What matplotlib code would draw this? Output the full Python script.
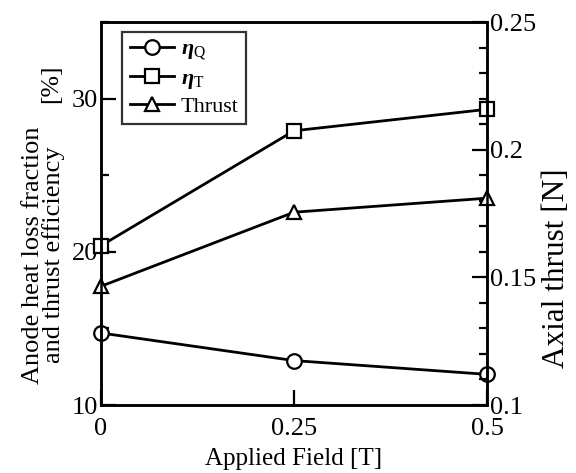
import matplotlib
matplotlib.use("Agg")
import matplotlib.pyplot as plt
from matplotlib.ticker import MultipleLocator

plt.rcParams['font.family'] = ['Liberation Serif', 'DejaVu Serif']
plt.rcParams['mathtext.fontset'] = 'custom'
plt.rcParams['mathtext.it'] = 'Liberation Serif:italic:bold'
plt.rcParams['mathtext.rm'] = 'Liberation Serif'

field = [0, 0.25, 0.5]
eta_q = [14.7, 12.9, 12.0]
eta_t = [20.4, 27.9, 29.3]
thrust = [0.1465, 0.1755, 0.181]

x_ticks = [0, 0.25, 0.5]
x_labels = ['0', '0.25', '0.5']
left_ticks = [10, 20, 30]
right_ticks = [0.1, 0.15, 0.2, 0.25]
right_labels = ['0.1', '0.15', '0.2', '0.25']

W, H = 576, 473
fig = plt.figure(figsize=(W / 100, H / 100), dpi=100)
ax = fig.add_axes([101 / W, 68 / H, 386 / W, 383 / H])
ax2 = ax.twinx()

mk = dict(color='black', lw=2.0, markersize=10.5, markerfacecolor='white',
          markeredgecolor='black', markeredgewidth=1.6, clip_on=False)
l1, = ax.plot(field, eta_q, marker='o', label=r'$\eta_{\rm Q}$', **mk)
l2, = ax.plot(field, eta_t, marker='s', label=r'$\eta_{\rm T}$', **mk)
l3, = ax2.plot(field, thrust, marker='^', label='Thrust', **mk)

ax.set_xlim(0, 0.5)
ax.set_ylim(10, 35)
ax2.set_ylim(0.1, 0.25)

ax.set_xticks(x_ticks)
ax.set_xticklabels(x_labels)
ax.set_yticks(left_ticks)
ax.yaxis.set_minor_locator(MultipleLocator(5))
ax2.set_yticks(right_ticks)
ax2.set_yticklabels(right_labels)
ax2.yaxis.set_minor_locator(MultipleLocator(0.01))

for a in (ax, ax2):
    for s in a.spines.values():
        s.set_linewidth(1.8)
    a.tick_params(which='both', direction='in', width=1.6, labelsize=19, pad=2)
    a.tick_params(which='major', length=11)
    a.tick_params(which='minor', length=6)
ax.tick_params(axis='x', pad=9)

ax.set_xlabel('Applied Field [T]', fontsize=18, labelpad=6)
fig.text(33 / W, 1 - 255 / H, 'Anode heat loss fraction', rotation=90,
         fontsize=19, ha='center', va='center')
fig.text(54 / W, 1 - 255 / H, 'and thrust efficiency', rotation=90,
         fontsize=19, ha='center', va='center')
fig.text(51 / W, 1 - 84 / H, '[%]', rotation=90,
         fontsize=18.5, ha='center', va='center')
fig.text(557 / W, 1 - 268 / H, 'Axial thrust [N]', rotation=90,
         fontsize=22.5, ha='center', va='center')

leg = ax.legend(handles=[l1, l2, l3], loc='upper left', bbox_to_anchor=(0.054, 0.975),
                fontsize=16, frameon=True, fancybox=False, edgecolor='black',
                handlelength=2.0, handletextpad=0.3, borderpad=0.35,
                labelspacing=0.25, borderaxespad=0)
leg.get_frame().set_linewidth(1.6)
leg.set_zorder(5)

fig.savefig('out.png', dpi=100)
